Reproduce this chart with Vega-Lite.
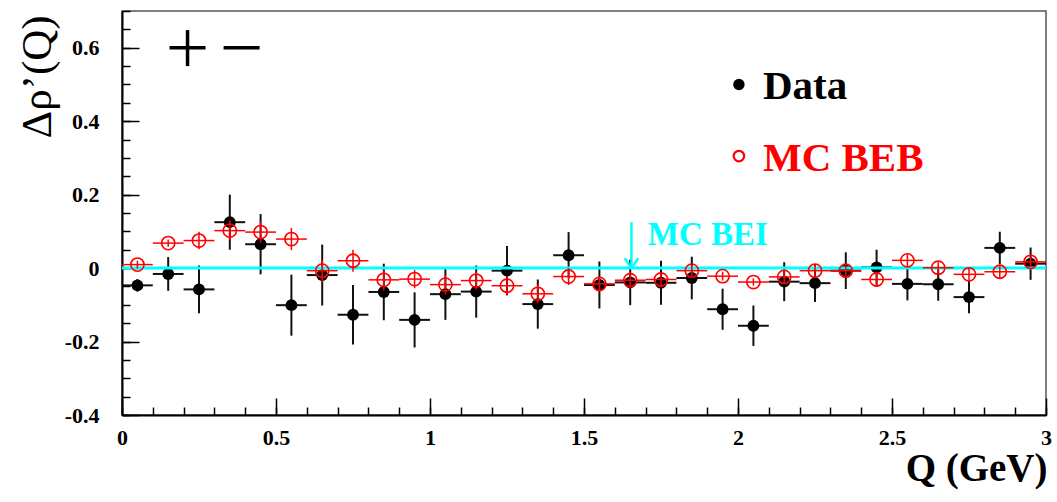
{
  "$schema": "https://vega.github.io/schema/vega-lite/v6.json",
  "width": 924,
  "height": 404,
  "autosize": {"type": "none"},
  "padding": {"left": 122, "top": 11, "right": 11, "bottom": 87},
  "background": "white",
  "config": {
    "view": {"stroke": "#555", "strokeWidth": 1.5},
    "font": "Liberation Serif",
    "axis": {
      "grid": false,
      "domainColor": "black",
      "domainWidth": 2,
      "tickColor": "black",
      "tickWidth": 1.5,
      "labelFont": "Liberation Serif",
      "labelFontWeight": "bold",
      "labelFontSize": 22,
      "labelColor": "black",
      "titleFont": "Liberation Serif",
      "titleColor": "black"
    }
  },
  "datasets": {
    "data": [
      {"q": 0.05, "qlo": 0.0, "qhi": 0.1, "v": -0.047, "lo": -0.064, "hi": -0.030},
      {"q": 0.15, "qlo": 0.1, "qhi": 0.2, "v": -0.016, "lo": -0.062, "hi": 0.030},
      {"q": 0.25, "qlo": 0.2, "qhi": 0.3, "v": -0.058, "lo": -0.123, "hi": 0.007},
      {"q": 0.35, "qlo": 0.3, "qhi": 0.4, "v": 0.125, "lo": 0.050, "hi": 0.200},
      {"q": 0.45, "qlo": 0.4, "qhi": 0.5, "v": 0.065, "lo": -0.017, "hi": 0.147},
      {"q": 0.55, "qlo": 0.5, "qhi": 0.6, "v": -0.101, "lo": -0.184, "hi": -0.018},
      {"q": 0.65, "qlo": 0.6, "qhi": 0.7, "v": -0.019, "lo": -0.102, "hi": 0.064},
      {"q": 0.75, "qlo": 0.7, "qhi": 0.8, "v": -0.127, "lo": -0.208, "hi": -0.046},
      {"q": 0.85, "qlo": 0.8, "qhi": 0.9, "v": -0.065, "lo": -0.142, "hi": 0.012},
      {"q": 0.95, "qlo": 0.9, "qhi": 1.0, "v": -0.141, "lo": -0.216, "hi": -0.066},
      {"q": 1.05, "qlo": 1.0, "qhi": 1.1, "v": -0.071, "lo": -0.141, "hi": -0.001},
      {"q": 1.15, "qlo": 1.1, "qhi": 1.2, "v": -0.064, "lo": -0.135, "hi": 0.007},
      {"q": 1.25, "qlo": 1.2, "qhi": 1.3, "v": -0.007, "lo": -0.074, "hi": 0.060},
      {"q": 1.35, "qlo": 1.3, "qhi": 1.4, "v": -0.098, "lo": -0.165, "hi": -0.031},
      {"q": 1.45, "qlo": 1.4, "qhi": 1.5, "v": 0.035, "lo": -0.028, "hi": 0.098},
      {"q": 1.55, "qlo": 1.5, "qhi": 1.6, "v": -0.046, "lo": -0.110, "hi": 0.018},
      {"q": 1.65, "qlo": 1.6, "qhi": 1.7, "v": -0.039, "lo": -0.101, "hi": 0.023},
      {"q": 1.75, "qlo": 1.7, "qhi": 1.8, "v": -0.040, "lo": -0.100, "hi": 0.020},
      {"q": 1.85, "qlo": 1.8, "qhi": 1.9, "v": -0.027, "lo": -0.085, "hi": 0.031},
      {"q": 1.95, "qlo": 1.9, "qhi": 2.0, "v": -0.112, "lo": -0.168, "hi": -0.056},
      {"q": 2.05, "qlo": 2.0, "qhi": 2.1, "v": -0.157, "lo": -0.212, "hi": -0.102},
      {"q": 2.15, "qlo": 2.1, "qhi": 2.2, "v": -0.037, "lo": -0.090, "hi": 0.016},
      {"q": 2.25, "qlo": 2.2, "qhi": 2.3, "v": -0.041, "lo": -0.092, "hi": 0.010},
      {"q": 2.35, "qlo": 2.3, "qhi": 2.4, "v": -0.007, "lo": -0.057, "hi": 0.043},
      {"q": 2.45, "qlo": 2.4, "qhi": 2.5, "v": 0.002, "lo": -0.046, "hi": 0.050},
      {"q": 2.55, "qlo": 2.5, "qhi": 2.6, "v": -0.043, "lo": -0.088, "hi": 0.002},
      {"q": 2.65, "qlo": 2.6, "qhi": 2.7, "v": -0.044, "lo": -0.089, "hi": 0.001},
      {"q": 2.75, "qlo": 2.7, "qhi": 2.8, "v": -0.079, "lo": -0.123, "hi": -0.035},
      {"q": 2.85, "qlo": 2.8, "qhi": 2.9, "v": 0.055, "lo": 0.011, "hi": 0.099},
      {"q": 2.95, "qlo": 2.9, "qhi": 3.0, "v": 0.012, "lo": -0.032, "hi": 0.056}
    ],
    "mc": [
      {"q": 0.05, "qlo": 0.0, "qhi": 0.1, "v": 0.0095, "lo": -0.001, "hi": 0.020},
      {"q": 0.15, "qlo": 0.1, "qhi": 0.2, "v": 0.068, "lo": 0.058, "hi": 0.078},
      {"q": 0.25, "qlo": 0.2, "qhi": 0.3, "v": 0.075, "lo": 0.051, "hi": 0.099},
      {"q": 0.35, "qlo": 0.3, "qhi": 0.4, "v": 0.102, "lo": 0.075, "hi": 0.129},
      {"q": 0.45, "qlo": 0.4, "qhi": 0.5, "v": 0.098, "lo": 0.069, "hi": 0.127},
      {"q": 0.55, "qlo": 0.5, "qhi": 0.6, "v": 0.079, "lo": 0.049, "hi": 0.109},
      {"q": 0.65, "qlo": 0.6, "qhi": 0.7, "v": -0.007, "lo": -0.037, "hi": 0.023},
      {"q": 0.75, "qlo": 0.7, "qhi": 0.8, "v": 0.020, "lo": -0.010, "hi": 0.050},
      {"q": 0.85, "qlo": 0.8, "qhi": 0.9, "v": -0.032, "lo": -0.061, "hi": -0.003},
      {"q": 0.95, "qlo": 0.9, "qhi": 1.0, "v": -0.030, "lo": -0.055, "hi": -0.005},
      {"q": 1.05, "qlo": 1.0, "qhi": 1.1, "v": -0.045, "lo": -0.072, "hi": -0.018},
      {"q": 1.15, "qlo": 1.1, "qhi": 1.2, "v": -0.034, "lo": -0.059, "hi": -0.009},
      {"q": 1.25, "qlo": 1.2, "qhi": 1.3, "v": -0.048, "lo": -0.074, "hi": -0.022},
      {"q": 1.35, "qlo": 1.3, "qhi": 1.4, "v": -0.070, "lo": -0.095, "hi": -0.045},
      {"q": 1.45, "qlo": 1.4, "qhi": 1.5, "v": -0.023, "lo": -0.046, "hi": 0.000},
      {"q": 1.55, "qlo": 1.5, "qhi": 1.6, "v": -0.043, "lo": -0.063, "hi": -0.023},
      {"q": 1.65, "qlo": 1.6, "qhi": 1.7, "v": -0.033, "lo": -0.053, "hi": -0.013},
      {"q": 1.75, "qlo": 1.7, "qhi": 1.8, "v": -0.031, "lo": -0.051, "hi": -0.011},
      {"q": 1.85, "qlo": 1.8, "qhi": 1.9, "v": -0.007, "lo": -0.022, "hi": 0.008},
      {"q": 1.95, "qlo": 1.9, "qhi": 2.0, "v": -0.022, "lo": -0.034, "hi": -0.010},
      {"q": 2.05, "qlo": 2.0, "qhi": 2.1, "v": -0.038, "lo": -0.048, "hi": -0.028},
      {"q": 2.15, "qlo": 2.1, "qhi": 2.2, "v": -0.024, "lo": -0.042, "hi": -0.006},
      {"q": 2.25, "qlo": 2.2, "qhi": 2.3, "v": -0.007, "lo": -0.025, "hi": 0.011},
      {"q": 2.35, "qlo": 2.3, "qhi": 2.4, "v": -0.007, "lo": -0.022, "hi": 0.008},
      {"q": 2.45, "qlo": 2.4, "qhi": 2.5, "v": -0.031, "lo": -0.051, "hi": -0.011},
      {"q": 2.55, "qlo": 2.5, "qhi": 2.6, "v": 0.021, "lo": 0.003, "hi": 0.039},
      {"q": 2.65, "qlo": 2.6, "qhi": 2.7, "v": 0.001, "lo": -0.014, "hi": 0.016},
      {"q": 2.75, "qlo": 2.7, "qhi": 2.8, "v": -0.017, "lo": -0.035, "hi": 0.001},
      {"q": 2.85, "qlo": 2.8, "qhi": 2.9, "v": -0.010, "lo": -0.028, "hi": 0.008},
      {"q": 2.95, "qlo": 2.9, "qhi": 3.0, "v": 0.017, "lo": 0.002, "hi": 0.032}
    ]
  },
  "resolve": {"axis": {"x": "independent", "y": "independent"}},
  "layer": [
    {
      "layer": [
        {
          "data": {"name": "data"},
          "mark": {"type": "rule", "color": "#111", "strokeWidth": 2},
          "encoding": {
            "x": {"field": "q", "type": "quantitative",
              "scale": {"domain": [0, 3], "nice": false, "zero": false},
              "axis": {
                "values": [0, 0.5, 1, 1.5, 2, 2.5, 3],
                "labelExpr": "'' + datum.value",
                "tickSize": -17,
                "labelPadding": 29,
                "labelFlush": false,
                "title": "Q (GeV)",
                "titleFontSize": 39,
                "titleFontWeight": "bold",
                "titleAnchor": "end",
                "titleAlign": "right",
                "titleBaseline": "alphabetic",
                "titleX": 925,
                "titleY": 65
              }
            },
            "y": {"field": "lo", "type": "quantitative",
              "scale": {"domain": [-0.4, 0.7], "nice": false, "zero": false},
              "axis": {
                "values": [-0.4, -0.2, 0, 0.2, 0.4, 0.6],
                "labelExpr": "'' + datum.value",
                "tickSize": -17,
                "labelPadding": 40,
                "labelFlush": false,
                "title": "Δρ’(Q)",
                "titleFontSize": 43,
                "titleFontWeight": "normal",
                "titleAngle": -90,
                "titleAlign": "left",
                "titleBaseline": "alphabetic",
                "titleX": -72,
                "titleY": 127
              }
            },
            "y2": {"field": "hi"}
          }
        },
        {
          "data": {"name": "data"},
          "mark": {"type": "rule", "color": "#111", "strokeWidth": 2},
          "encoding": {
            "x": {"field": "qlo", "type": "quantitative"},
            "x2": {"field": "qhi"},
            "y": {"field": "v", "type": "quantitative"}
          }
        },
        {
          "data": {"name": "data"},
          "mark": {"type": "point", "shape": "circle", "filled": true, "color": "black", "size": 140, "opacity": 1},
          "encoding": {
            "x": {"field": "q", "type": "quantitative"},
            "y": {"field": "v", "type": "quantitative"}
          }
        },
        {
          "data": {"values": [{"x": 0, "x2": 3, "y": 0}]},
          "mark": {"type": "rule", "color": "#00ffff", "strokeWidth": 3},
          "encoding": {
            "x": {"field": "x", "type": "quantitative"},
            "x2": {"field": "x2"},
            "y": {"field": "y", "type": "quantitative"}
          }
        },
        {
          "data": {"name": "mc"},
          "mark": {"type": "rule", "color": "#ff0000", "strokeWidth": 1.5},
          "encoding": {
            "x": {"field": "q", "type": "quantitative"},
            "y": {"field": "lo", "type": "quantitative"},
            "y2": {"field": "hi"}
          }
        },
        {
          "data": {"name": "mc"},
          "mark": {"type": "rule", "color": "#ff0000", "strokeWidth": 1.5},
          "encoding": {
            "x": {"field": "qlo", "type": "quantitative"},
            "x2": {"field": "qhi"},
            "y": {"field": "v", "type": "quantitative"}
          }
        },
        {
          "data": {"name": "mc"},
          "mark": {"type": "point", "shape": "circle", "filled": false, "color": "#ff0000", "strokeWidth": 1.6, "size": 175, "opacity": 1},
          "encoding": {
            "x": {"field": "q", "type": "quantitative"},
            "y": {"field": "v", "type": "quantitative"}
          }
        },
        {
          "data": {"values": [
            {"x": 0.1543, "x2": 0.2713, "y": 0.6, "y2": 0.6},
            {"x": 0.2128, "x2": 0.2128, "y": 0.550, "y2": 0.648},
            {"x": 0.3298, "x2": 0.4467, "y": 0.6, "y2": 0.6}
          ]},
          "mark": {"type": "rule", "color": "black", "strokeWidth": 3.5},
          "encoding": {
            "x": {"field": "x", "type": "quantitative"},
            "x2": {"field": "x2"},
            "y": {"field": "y", "type": "quantitative"},
            "y2": {"field": "y2"}
          }
        },
        {
          "data": {"values": [
            {"x": 1.654, "x2": 1.654, "y": 0.125, "y2": 0.0},
            {"x": 1.632, "x2": 1.654, "y": 0.027, "y2": 0.0},
            {"x": 1.676, "x2": 1.654, "y": 0.027, "y2": 0.0}
          ]},
          "mark": {"type": "rule", "color": "#00ffff", "strokeWidth": 2.5},
          "encoding": {
            "x": {"field": "x", "type": "quantitative"},
            "x2": {"field": "x2"},
            "y": {"field": "y", "type": "quantitative"},
            "y2": {"field": "y2"}
          }
        },
        {
          "data": {"values": [{"x": 2.003, "y": 0.5}]},
          "mark": {"type": "point", "shape": "circle", "filled": true, "color": "black", "size": 130, "opacity": 1},
          "encoding": {
            "x": {"field": "x", "type": "quantitative"},
            "y": {"field": "y", "type": "quantitative"}
          }
        },
        {
          "data": {"values": [{"x": 2.003, "y": 0.305}]},
          "mark": {"type": "point", "shape": "circle", "filled": false, "color": "#ff0000", "strokeWidth": 2.2, "size": 110, "opacity": 1},
          "encoding": {
            "x": {"field": "x", "type": "quantitative"},
            "y": {"field": "y", "type": "quantitative"}
          }
        },
        {
          "data": {"values": [{"x": 2.081, "y": 0.461, "t": "Data"}]},
          "mark": {"type": "text", "align": "left", "baseline": "alphabetic", "font": "Liberation Serif", "fontWeight": "bold", "fontSize": 41, "color": "black"},
          "encoding": {
            "x": {"field": "x", "type": "quantitative"},
            "y": {"field": "y", "type": "quantitative"},
            "text": {"field": "t"}
          }
        },
        {
          "data": {"values": [{"x": 2.081, "y": 0.264, "t": "MC BEB"}]},
          "mark": {"type": "text", "align": "left", "baseline": "alphabetic", "font": "Liberation Serif", "fontWeight": "bold", "fontSize": 41, "color": "#ff0000"},
          "encoding": {
            "x": {"field": "x", "type": "quantitative"},
            "y": {"field": "y", "type": "quantitative"},
            "text": {"field": "t"}
          }
        },
        {
          "data": {"values": [{"x": 1.707, "y": 0.064, "t": "MC BEI"}]},
          "mark": {"type": "text", "align": "left", "baseline": "alphabetic", "font": "Liberation Serif", "fontWeight": "bold", "fontSize": 33, "color": "#00ffff"},
          "encoding": {
            "x": {"field": "x", "type": "quantitative"},
            "y": {"field": "y", "type": "quantitative"},
            "text": {"field": "t"}
          }
        }
      ]
    },
    {
      "data": {"values": [{"x": 0, "y": 0}]},
      "mark": {"type": "point", "opacity": 0},
      "encoding": {
        "x": {"field": "x", "type": "quantitative",
          "axis": {
            "orient": "bottom",
            "values": [0, 0.1, 0.2, 0.3, 0.4, 0.5, 0.6, 0.7, 0.8, 0.9, 1, 1.1, 1.2, 1.3, 1.4, 1.5, 1.6, 1.7, 1.8, 1.9, 2, 2.1, 2.2, 2.3, 2.4, 2.5, 2.6, 2.7, 2.8, 2.9, 3],
            "tickSize": -8,
            "labels": false,
            "domain": false,
            "title": null
          }
        },
        "y": {"field": "y", "type": "quantitative",
          "axis": {
            "orient": "left",
            "values": [-0.4, -0.35, -0.3, -0.25, -0.2, -0.15, -0.1, -0.05, 0, 0.05, 0.1, 0.15, 0.2, 0.25, 0.3, 0.35, 0.4, 0.45, 0.5, 0.55, 0.6, 0.65, 0.7],
            "tickSize": -8,
            "labels": false,
            "domain": false,
            "title": null
          }
        }
      }
    }
  ]
}
